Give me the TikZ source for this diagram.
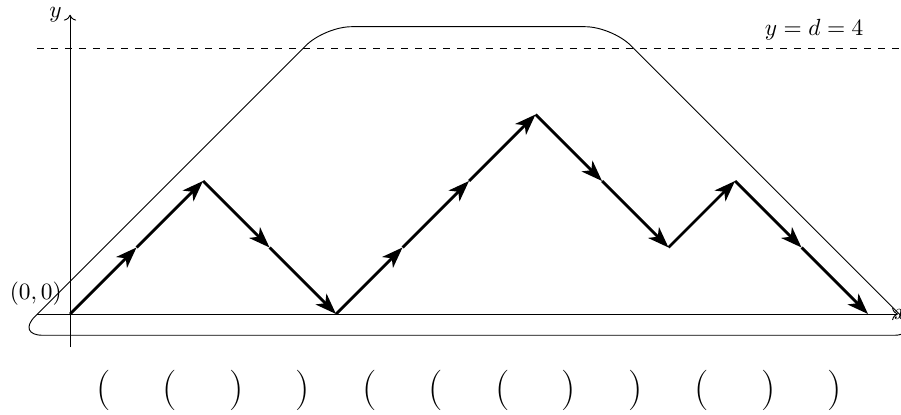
\documentclass[tikz,border=0pt]{standalone}
\usetikzlibrary{arrows.meta}
\begin{document}
\begin{tikzpicture}[
  walkseg/.style={line width=1.2pt, -{Stealth[length=9pt,width=6.5pt,inset=2.5pt]}},
  axisline/.style={->},
  outline/.style={rounded corners=0.4cm},
  paren/.style={font=\LARGE, inner sep=0pt}
]
\useasboundingbox (-1.053,-1.504) rectangle (12.496,4.722);
% axes
\coordinate (xs) at (-0.5,0);
\coordinate (xe) at (12.45,0);
\coordinate (ys) at (0,-0.5);
\coordinate (ye) at (0,4.5);
\draw[axisline] (xs) -- (xe);
\draw[axisline] (ys) -- (ye);
\node[left] (ylab) at (ye) {$y$};
\node[anchor=west] (xlab) at (12.27,0) {$x$};
\node[above left] (orig) at (0,0) {$(0,0)$};
% dashed line
\coordinate (ds) at (-0.5,4);
\coordinate (de) at (12.6,4);
\draw[dashed] (ds) -- (de);
\node[above] (dlab) at (11.19,4) {$y=d=4$};
% outline
\draw[outline] (6,-0.32) -- (-0.81,-0.32) -- (3.83,4.32) -- (8.15,4.32) -- (12.79,-0.32) -- cycle;
% walk
\foreach \i/\h in {0/0,1/1,2/2,3/1,4/0,5/1,6/2,7/3,8/2,9/1,10/2,11/1,12/0}
  \coordinate (p\i) at (\i,\h);
\foreach \a/\b in {0/1,1/2,2/3,3/4,4/5,5/6,6/7,7/8,8/9,9/10,10/11,11/12}
  \draw[walkseg] (p\a) -- (p\b);
% parentheses
\foreach \i/\c in {1/(,2/(,3/),4/),5/(,6/(,7/(,8/),9/),10/(,11/),12/)}
  \node[paren] (b\i) at (\i-0.5,-1.15) {\c};
\end{tikzpicture}
\end{document}
